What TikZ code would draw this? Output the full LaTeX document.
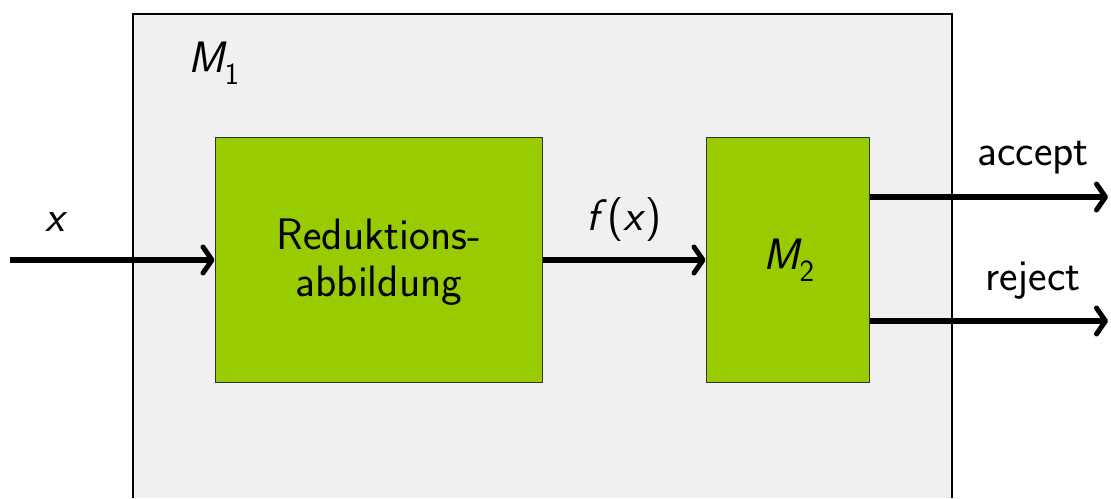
\documentclass[tikz,border=0pt]{standalone}
\usepackage{amsmath}
\usetikzlibrary{arrows.meta}
\renewcommand\familydefault{\sfdefault}
\definecolor{boxgreen}{RGB}{153,204,0}
\definecolor{panelgray}{RGB}{240,240,240}
\tikzset{
  stage/.style={draw=black!80, line width=1pt, fill=boxgreen, inner sep=0pt},
  flow/.style={line width=6pt, -{Straight Barb[length=9pt,width=26pt,line width=5pt,round]}},
  lbl/.style={inner sep=0pt, font=\fontsize{44}{47}\selectfont, align=center}
}
\begin{document}
\begin{tikzpicture}[x=1pt, y=-1pt]
  \useasboundingbox (0,0) rectangle (1111,498);
  % outer machine M1 (open at the bottom)
  \fill[panelgray] (133,14) rectangle (952,498);
  \draw[line width=1.5pt] (133,498) -- (133,14) -- (952,14) -- (952,498);
  \node[lbl] (m1) at (214,63) {$\textit{M}_{\textsf{1}}$};
  % inner stages
  \node[stage, minimum width=327pt, minimum height=245pt] (red) at (378.5,259.5) {};
  \node[lbl] (redtext) at (379,262) {Reduktions-\\abbildung};
  \node[stage, minimum width=163pt, minimum height=245pt] (m2) at (787.5,259.5) {};
  \node[lbl] (m2text) at (789,260) {$\textit{M}_{\textsf{2}}$};
  % free ends
  \coordinate (in) at (10,260);
  \coordinate (acc) at (1108,197);
  \coordinate (rej) at (1108,321);
  % connectors
  \draw[flow] (in) -- (red.west |- in);
  \draw[flow] (red.east |- in) -- (m2.west |- in);
  \draw[flow] (m2.east |- acc) -- (acc);
  \draw[flow] (m2.east |- rej) -- (rej);
  % labels
  \node[lbl] (xl) at (57,222) {\textit{x}};
  \node[lbl] (fx) at (624,220) {\textit{f}(\textit{x})};
  \node[lbl] (accl) at (1033,158) {accept};
  \node[lbl] (rejl) at (1033,281) {reject};
\end{tikzpicture}
\end{document}
